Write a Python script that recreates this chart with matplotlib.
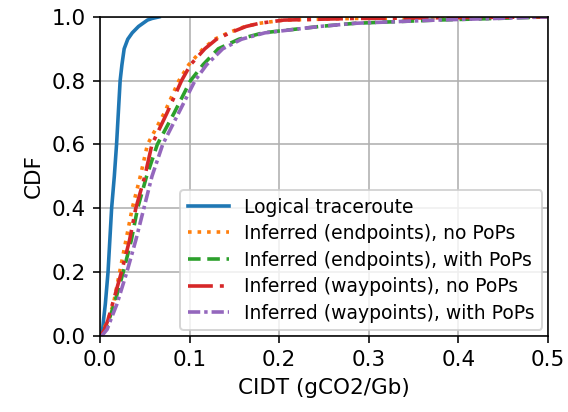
import matplotlib
matplotlib.use("Agg")
import matplotlib.pyplot as plt

cdf = [0.0, 0.02, 0.05, 0.1, 0.2, 0.3, 0.4, 0.5, 0.6, 0.7, 0.8, 0.85, 0.9,
       0.93, 0.95, 0.97, 0.98, 0.99, 0.995, 1.0]

logical = [0.0, 0.003, 0.004, 0.006, 0.009, 0.011, 0.013, 0.016, 0.0185, 0.0205,
           0.0225, 0.0245, 0.027, 0.031, 0.036, 0.043, 0.048, 0.053, 0.058, 0.066]
end_nopop = [0.0, 0.004, 0.009, 0.015, 0.022, 0.029, 0.036, 0.045, 0.053, 0.072,
             0.088, 0.099, 0.115, 0.128, 0.143, 0.162, 0.178, 0.205, 0.28, 0.5]
end_pop = [0.002, 0.006, 0.010, 0.016, 0.026, 0.035, 0.042, 0.052, 0.064, 0.083,
           0.101, 0.115, 0.132, 0.155, 0.182, 0.245, 0.285, 0.375, 0.44, 0.5]
way_nopop = [0.001, 0.005, 0.009, 0.014, 0.024, 0.033, 0.040, 0.050, 0.058, 0.075,
             0.091, 0.101, 0.117, 0.130, 0.145, 0.163, 0.178, 0.205, 0.28, 0.5]
way_pop = [0.002, 0.008, 0.012, 0.019, 0.030, 0.040, 0.049, 0.058, 0.070, 0.088,
           0.106, 0.119, 0.137, 0.158, 0.184, 0.245, 0.285, 0.375, 0.44, 0.5]

labels = ["Logical traceroute",
          "Inferred (endpoints), no PoPs",
          "Inferred (endpoints), with PoPs",
          "Inferred (waypoints), no PoPs",
          "Inferred (waypoints), with PoPs"]

plt.rcParams["font.size"] = 10.75

fig = plt.figure(figsize=(568 / 144, 412 / 144), dpi=144)
ax = fig.add_axes([0.176, 0.185, 0.789, 0.774])

lw = 1.8
ax.plot(logical, cdf, color="#1f77b4", lw=lw, label=labels[0])
ax.plot(end_nopop, cdf, color="#ff7f0e", lw=lw, ls=":", label=labels[1])
ax.plot(end_pop, cdf, color="#2ca02c", lw=lw, ls=(0, (3.5, 1.85)), label=labels[2])
ax.plot(way_nopop, cdf, color="#d62728", lw=lw, ls=(0, (6.9, 1.95, 1.1, 1.95)), label=labels[3])
ax.plot(way_pop, cdf, color="#9467bd", lw=lw, ls=(0, (3.4, 1.1, 0.95, 1.1)), label=labels[4])

ax.set_xlim(0, 0.5)
ax.set_ylim(0, 1.0)
ax.set_xlabel("CIDT (gCO2/Gb)")
ax.set_ylabel("CDF")
ax.grid(True)
ax.legend(loc="lower right", fontsize=9.4, labelspacing=0.4,
          handlelength=2.2, borderaxespad=0.3)

fig.savefig("out.png", dpi=144)
